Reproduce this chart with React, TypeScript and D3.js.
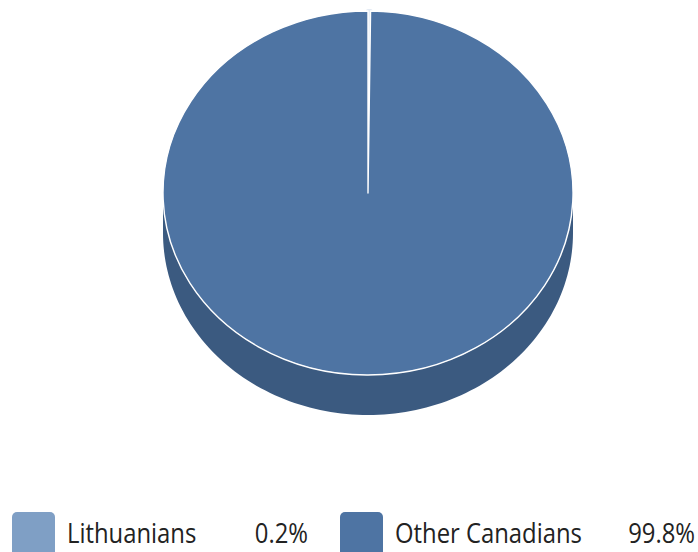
import React from "react";
import * as d3 from "d3";

const categories = ["Lithuanians", "Other Canadians"];
const values = [0.2, 99.8];
const labels = ["0.2%", "99.8%"];
const topColors = ["#7f9fc5", "#4e74a3"];
const sideColors = ["#5d7699", "#3b5a80"];

const W = 698;
const H = 552;
const cx = 368;
const cy = 193;
const rx = 205;
const ry = 182;
const depth = 40;

export default function App() {
  const pie = d3.pie<number>().sort(null).value((d) => d);
  const arcs = pie(values);
  const arcGen = d3.arc<d3.PieArcDatum<number>>().innerRadius(0).outerRadius(rx);
  const pt = (a: number, dy: number): [number, number] => [
    cx + rx * Math.sin(a),
    cy - ry * Math.cos(a) + dy,
  ];
  const line = d3.line();

  const sides = arcs.map((a, i) => {
    const s = Math.max(a.startAngle, Math.PI / 2);
    const e = Math.min(a.endAngle, (3 * Math.PI) / 2);
    if (e <= s) return null;
    const n = 120;
    const angs = d3.range(n + 1).map((k) => s + ((e - s) * k) / n);
    const pts: [number, number][] = [
      ...angs.map((g) => pt(g, 0)),
      ...angs.slice().reverse().map((g) => pt(g, depth)),
    ];
    return <path key={"s" + i} d={line(pts) + "Z"} fill={sideColors[i]} />;
  });

  const legendX = [12, 340];
  const textX = [67, 395];
  const pctX = [308, 695];
  const fs = 26.5;
  const sx = 0.9;

  return (
    <svg width={W} height={H} style={{ position: "absolute", left: 0, top: 0 }}>
      <rect width={W} height={H} fill="#ffffff" />
      {sides}
      <g transform={`translate(${cx},${cy}) scale(1,${ry / rx})`}>
        {arcs.map((a, i) => (
          <path
            key={i}
            d={arcGen(a) || ""}
            fill={topColors[i]}
            stroke={i === 0 ? "#e4ebf4" : "#ffffff"}
            strokeWidth={i === 0 ? 4 : 1.4}
            vectorEffect="non-scaling-stroke"
            strokeLinejoin="round"
          />
        ))}
      </g>
      {categories.map((c, i) => (
        <g key={c}>
          <rect x={legendX[i]} y={512} width={43} height={48} rx={5} fill={topColors[i]} />
          <text
            transform={`translate(${textX[i]},543) scale(${sx},1)`}
            fontFamily="'Open Sans', sans-serif"
            fontSize={fs}
            fill="#222222"
          >
            {c}
          </text>
          <text
            transform={`translate(${pctX[i]},543) scale(${sx},1)`}
            textAnchor="end"
            fontFamily="'Open Sans', sans-serif"
            fontSize={fs}
            fill="#222222"
          >
            {labels[i]}
          </text>
        </g>
      ))}
    </svg>
  );
}
